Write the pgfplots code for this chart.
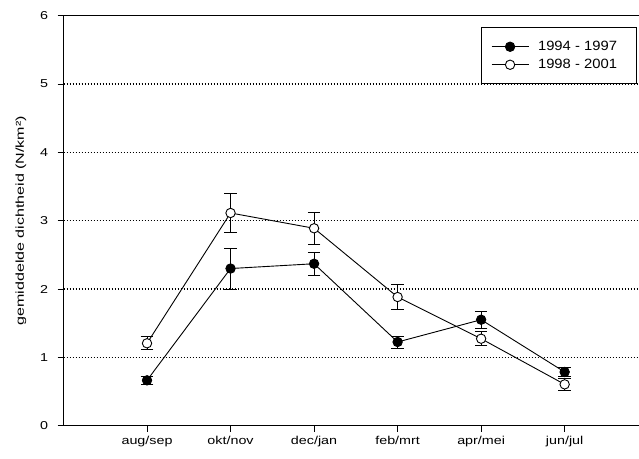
\documentclass[border=0pt]{standalone}
\usepackage{fontspec}
\setmainfont{Liberation Sans}[FakeStretch=1.25]
\newfontfamily\labfont{Liberation Sans}[FakeStretch=1.4]
\newfontfamily\legfont{Liberation Sans}[FakeStretch=1.1]
\usepackage{pgfplots}
\pgfplotsset{compat=1.18}
\begin{document}
\begin{tikzpicture}
\path[use as bounding box] (-63.5bp,-33.3bp) rectangle (575.5bp,425.7bp);
\begin{axis}[
  scale only axis, width=575.5bp, height=410bp,
  xmin=-1, xmax=5.89, ymin=0, ymax=6,
  axis x line*=box, axis y line*=left,
  xtick={0,1,2,3,4,5},
  xticklabels={aug/sep,okt/nov,dec/jan,feb/mrt,apr/mei,jun/jul},
  ytick={0,1,2,3,4,5,6},
  xtick pos=bottom, ytick pos=left,
  tick align=outside, major tick length=6bp,
  tick style={black, line width=0.9bp},
  axis line style={black, line width=0.9bp},
  ymajorgrids,
  grid style={black, dash pattern=on 1.2bp off 1.8bp, line width=1.1bp},
  /pgf/number format/assume math mode=true,
  tick label style={font=\fontsize{11.5}{13}\selectfont},
  xticklabel style={yshift=-1bp},
  yticklabel style={xshift=-6bp},
  ylabel={\labfont gemiddelde dichtheid (N/km²)},
  every axis y label/.style={at={(axis description cs:-0.0738,0.5)}, anchor=center, rotate=90, font=\fontsize{11.5}{13}\selectfont},
  legend style={at={(rel axis cs:0.7249,0.9717)}, anchor=north west, draw=black, line width=0.9bp,
    font=\legfont\fontsize{13.5}{15}\selectfont, inner xsep=10bp, inner ysep=13bp,
    nodes={inner sep=0pt, text height=9.5bp, text depth=2.5bp},
    cells={anchor=west}, row sep=6bp, column sep=9bp},
  legend image code/.code={\draw[mark repeat=2,mark phase=2] plot coordinates {(0bp,0bp)(18.5bp,0bp)(37bp,0bp)};},
  error bars/y dir=both, error bars/y explicit,
  error bars/error bar style={black, line width=0.9bp},
  error bars/error mark options={black, rotate=90, mark size=6.3bp, line width=0.9bp},
]
\addplot[black, line width=0.9bp, mark=*, mark size=4.7bp, mark options={fill=black}]
  coordinates {
  (0,0.664) +- (0,0.055)
  (1,2.30) +- (0,0.30)
  (2,2.37) +- (0,0.165)
  (3,1.225) +- (0,0.088)
  (4,1.551) +- (0,0.127)
  (5,0.786) +- (0,0.06)
  };
\addlegendentry{1994 - 1997\hspace*{9.5bp}}
\addplot[black, line width=0.9bp, mark=*, mark size=4.7bp, mark options={fill=white}]
  coordinates {
  (0,1.206) +- (0,0.095)
  (1,3.113) +- (0,0.29)
  (2,2.889) +- (0,0.23)
  (3,1.883) +- (0,0.185)
  (4,1.273) +- (0,0.105)
  (5,0.605) +- (0,0.09)
  };
\addlegendentry{1998 - 2001\hspace*{9.5bp}}
\end{axis}
\end{tikzpicture}
\end{document}
